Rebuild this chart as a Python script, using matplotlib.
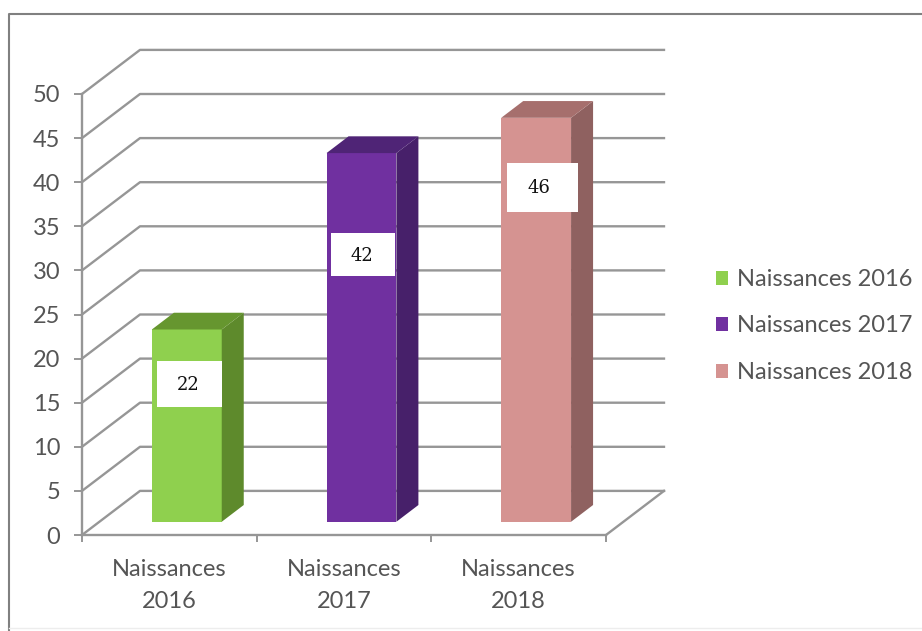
import matplotlib
matplotlib.use('Agg')
import matplotlib.pyplot as plt
from matplotlib.lines import Line2D
from matplotlib.patches import Patch, Polygon, Rectangle

plt.rcParams['font.family'] = ['Lato', 'DejaVu Sans']

categories = ['Naissances\n2016', 'Naissances\n2017', 'Naissances\n2018']
series = ['Naissances 2016', 'Naissances 2017', 'Naissances 2018']
values = [22, 42, 46]
yticks = [0, 5, 10, 15, 20, 25, 30, 35, 40, 45, 50]

front = ['#8FD04E', '#7030A0', '#D59391']
side = ['#5E8A2C', '#47206A', '#8F6160']
top = ['#66962F', '#4F2476', '#A66F6D']

W, H = 922, 631
GREY = '#969696'
TXT = '#555555'

fig = plt.figure(figsize=(W/100, H/100), dpi=100, facecolor='white')
# plot box in pixels: x 82-606, y 94-535
ax = fig.add_axes([82/W, 1-535/H, 524/W, 441/H])
ax.set_xlim(0, 3)
ax.set_ylim(0, 50)
ax.patch.set_visible(False)

# depth of the fake 3d box, in data units
dx, dy = 0.332, 5.0
for v in yticks:
    ax.plot([0, dx, 3+dx], [v, v+dy, v+dy], color=GREY, lw=1.7, clip_on=False, zorder=1)
ax.plot([3+dx, 3], [dy, 0], color=GREY, lw=1.7, clip_on=False, zorder=1)

# bars sit a little behind the front edge of the floor
off_x, off_y = 0.1, 1.5
bw = 0.4
bar_dx, bar_dy = 0.126, 1.9
for i, v in enumerate(values):
    x0 = i + 0.5 + off_x - bw/2
    x1 = x0 + bw
    y0 = off_y
    y1 = off_y + v - 0.2
    ax.bar(x0 + bw/2, y1 - y0, bw, bottom=y0, color=front[i], zorder=3, clip_on=False)
    ax.add_patch(Polygon([(x1, y0), (x1+bar_dx, y0+bar_dy), (x1+bar_dx, y1+bar_dy), (x1, y1)],
                         closed=True, fc=side[i], ec='none', zorder=3, clip_on=False))
    ax.add_patch(Polygon([(x0, y1), (x0+bar_dx, y1+bar_dy), (x1+bar_dx, y1+bar_dy), (x1, y1)],
                         closed=True, fc=top[i], ec='none', zorder=3, clip_on=False))

for s in ['top', 'right']:
    ax.spines[s].set_visible(False)
for s in ['left', 'bottom']:
    ax.spines[s].set_color(GREY)
    ax.spines[s].set_linewidth(1.7)

ax.set_yticks(yticks)
ax.set_xticks([0, 1, 2, 3])
ax.set_xticklabels([])
ax.set_xticks([0.5, 1.5, 2.5], minor=True)
ax.set_xticklabels(categories, minor=True, fontsize=17, color=TXT, linespacing=1.66)
ax.tick_params(axis='y', length=5.5, width=1.4, color=GREY, labelsize=17, labelcolor=TXT, pad=10)
ax.tick_params(axis='x', which='major', length=5, width=1.4, color=GREY)
ax.tick_params(axis='x', which='minor', length=0, pad=17)
for t in ax.get_yticklabels():
    t.set_va('center_baseline')

# white value boxes, placed by hand like in the original (pixels)
boxes = [(157, 361, 65, 46), (331, 233, 64, 43), (507, 163, 71, 49)]
text_at = [(188, 385), (362, 256), (539, 188)]
for i, v in enumerate(values):
    bx, by, bwid, bh = boxes[i]
    fig.add_artist(Rectangle((bx/W, 1-(by+bh)/H), bwid/W, bh/H, transform=fig.transFigure,
                             fc='white', ec='none', zorder=5))
    fig.text(text_at[i][0]/W, 1-text_at[i][1]/H, str(v), ha='center', va='center',
             family='DejaVu Serif', fontsize=13, color='#111111', zorder=6)

handles = [Patch(fc=c, ec='none') for c in front]
fig.legend(handles, series, loc='center left', bbox_to_anchor=(716/W, 1-326/H), frameon=False,
           fontsize=17, labelcolor=TXT, handlelength=0.52, handleheight=0.52,
           handletextpad=0.38, labelspacing=1.08, borderpad=0, borderaxespad=0)

# outer frame of the pasted picture
fig.add_artist(Line2D([9/W, 9/W, 1], [0, 1-14/H, 1-14/H], transform=fig.transFigure,
                      color='#808080', lw=1.5))
fig.add_artist(Line2D([9/W, 1], [1-628/H, 1-628/H], transform=fig.transFigure,
                      color='#EDEDED', lw=1))

fig.savefig('out.png', dpi=100)
